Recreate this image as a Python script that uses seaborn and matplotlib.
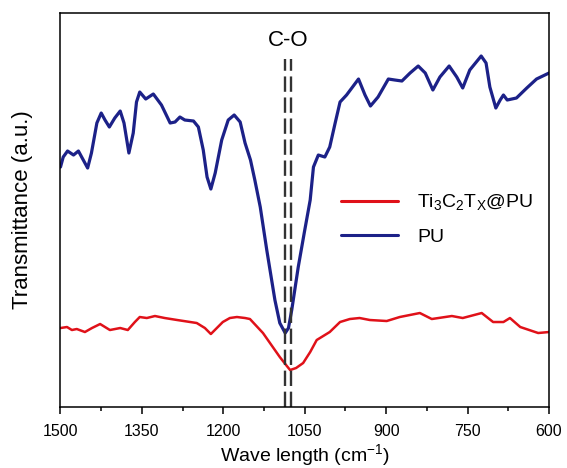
import numpy as np
import pandas as pd
import matplotlib
matplotlib.use('Agg')
import matplotlib.pyplot as plt
from matplotlib.ticker import MultipleLocator
import seaborn as sns

# ------------------------------------------------------------ #
# data (wavenumber, transmittance a.u.)
# ------------------------------------------------------------ #

pu_wn = [1500, 1495, 1487, 1476, 1467, 1458, 1450, 1443, 1433, 1425, 1418, 1410, 1400,
         1390, 1383, 1374, 1366, 1360, 1354, 1343, 1329, 1314, 1298, 1289, 1280, 1271,
         1255, 1246, 1237, 1230, 1223, 1215, 1203, 1191, 1180, 1169, 1160, 1150, 1142,
         1132, 1120, 1105, 1096, 1086, 1080, 1074, 1062, 1051, 1040, 1034, 1025, 1013,
         1004, 994, 985, 973, 962, 951, 939, 929, 915, 896, 884, 871, 856, 841, 828,
         814, 801, 784, 770, 759, 746, 725, 716, 709, 698, 690, 684, 677, 660, 641,
         623, 600]
pu_t = [240, 250, 256, 252, 256, 247, 239, 254, 284, 294, 287, 280, 289,
        296, 284, 254, 274, 305, 315, 308, 313, 302, 284, 285, 290, 287,
        286, 280, 257, 230, 218, 234, 267, 287, 292, 285, 264, 247, 227,
        200, 157, 107, 84, 74, 79, 97, 140, 174, 207, 240, 252, 250,
        260, 284, 305, 312, 320, 328, 312, 301, 310, 328, 327, 326, 334, 341, 334,
        317, 330, 341, 330, 319, 337, 351, 344, 320, 299, 307, 312, 307, 309, 319,
        328, 334]

ti_wn = [1500, 1488, 1479, 1470, 1455, 1442, 1427, 1409, 1390, 1376, 1363, 1354, 1341,
         1326, 1308, 1285, 1249, 1234, 1223, 1212, 1201, 1188, 1175, 1160, 1151, 1127,
         1096, 1083, 1077, 1066, 1053, 1040, 1028, 1004, 985, 967, 949, 930, 899, 875,
         838, 816, 779, 759, 724, 703, 684, 672, 653, 620, 600]
ti_t = [79, 80, 77, 78, 75, 79, 83, 77, 79, 77, 85, 90, 89,
        91, 89, 87, 84, 79, 73, 79, 85, 89, 90, 89, 88, 74,
        50, 41, 37, 39, 44, 55, 67, 75, 85, 88, 89, 87, 86, 90,
        94, 88, 91, 89, 94, 85, 85, 89, 80, 74, 75]

labels = [r'Ti$_{\mathregular{3}}$C$_{\mathregular{2}}$T$_{\mathregular{X}}$@PU', 'PU']
peak_lines = [1086, 1076]

df = pd.concat([
    pd.DataFrame({'wn': ti_wn, 't': ti_t, 'sample': labels[0]}),
    pd.DataFrame({'wn': pu_wn, 't': pu_t, 'sample': labels[1]}),
])

# ------------------------------------------------------------ #
# plot
# ------------------------------------------------------------ #

sns.set_style('ticks')
plt.rcParams['font.family'] = ['Liberation Sans', 'DejaVu Sans']
plt.rcParams['mathtext.fontset'] = 'custom'
plt.rcParams['mathtext.rm'] = 'Liberation Sans'
plt.rcParams['lines.solid_joinstyle'] = 'round'
plt.rcParams['lines.solid_capstyle'] = 'round'
plt.rcParams['text.color'] = 'black'
plt.rcParams['axes.labelcolor'] = 'black'
plt.rcParams['xtick.color'] = 'black'
plt.rcParams['xtick.labelcolor'] = 'black'

fig = plt.figure(figsize=(5.67, 4.68), dpi=100)
ax = fig.add_axes([0.1067, 0.1303, 0.8616, 0.8419])

sns.lineplot(data=df, x='wn', y='t', hue='sample', sort=False,
             palette=['#e01119', '#1c2188'], ax=ax, estimator=None)
for line, lw in zip(ax.lines, [1.8, 2.3]):
    line.set_linewidth(lw)

for x in peak_lines:
    ax.axvline(x, ymin=0, ymax=0.883, color='#333333', lw=1.7, dashes=(6.5, 2.4))
ax.text(1081, 367, 'C-O', ha='center', va='center', fontsize=16)

ax.set_xlim(1500, 600)
ax.set_ylim(0, 394)
ax.xaxis.set_major_locator(MultipleLocator(150))
ax.xaxis.set_minor_locator(MultipleLocator(75))
ax.set_yticks([])
ax.tick_params(axis='x', direction='out', length=5, width=1.1, labelsize=11.5, pad=7,
               colors='black')
ax.tick_params(axis='x', which='minor', direction='out', length=3, width=1.1, colors='black')
for s in ax.spines.values():
    s.set_visible(True)
    s.set_color('black')
    s.set_linewidth(1.1)

ax.set_xlabel('Wave length (cm$^{\\mathregular{-1}}$)', fontsize=14, labelpad=3)
ax.set_ylabel('Transmittance (a.u.)', fontsize=16)
ax.yaxis.set_label_coords(-0.056, 0.5)

leg = ax.legend(loc='center left', bbox_to_anchor=(0.575, 0.476), frameon=False,
                fontsize=14, handlelength=2.9, handletextpad=1.0, labelspacing=0.8,
                borderpad=0, borderaxespad=0)
for h in leg.legend_handles:
    h.set_linewidth(2.2)
for t in leg.get_texts():
    t.set_color('black')

fig.savefig('out.png', dpi=100)
